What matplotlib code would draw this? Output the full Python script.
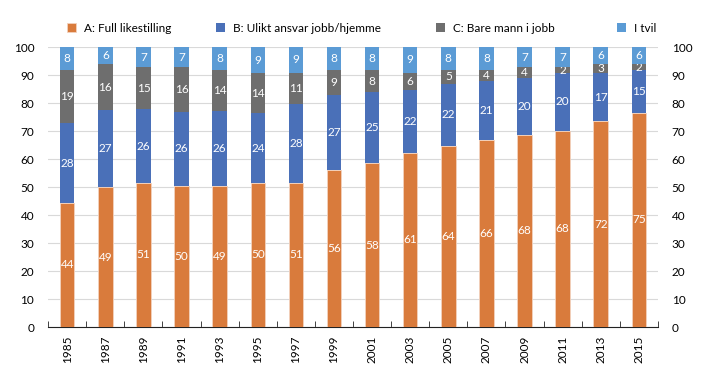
import matplotlib
matplotlib.use("Agg")
import matplotlib.pyplot as plt
import numpy as np

plt.rcParams['font.family'] = ['Lato', 'DejaVu Sans']

years = ['1985', '1987', '1989', '1991', '1993', '1995', '1997', '1999',
         '2001', '2003', '2005', '2007', '2009', '2011', '2013', '2015']
full = [44, 49, 51, 50, 49, 50, 51, 56, 58, 61, 64, 66, 68, 68, 72, 75]
ulikt = [28, 27, 26, 26, 26, 24, 28, 27, 25, 22, 22, 21, 20, 20, 17, 15]
bare_mann = [19, 16, 15, 16, 14, 14, 11, 9, 8, 6, 5, 4, 4, 2, 3, 2]
tvil = [8, 6, 7, 7, 8, 9, 9, 8, 8, 9, 8, 8, 7, 7, 6, 6]

names = ['A: Full likestilling', 'B: Ulikt ansvar jobb/hjemme',
         'C: Bare mann i jobb', 'I tvil']
colors = ['#D97B3C', '#4A70B8', '#6E6E6E', '#5B9BD5']
legend_x = [67, 216, 436, 617]  # pixel position of each legend square

series = np.array([full, ulikt, bare_mann, tvil], dtype=float)
# the printed numbers are rounded, bars are scaled so each year sums to 100
heights = series / series.sum(axis=0) * 100

fig = plt.figure(figsize=(7.19, 3.83), dpi=100)
ax = fig.add_axes([0.067, 0.146, 0.848, 0.731])

x = np.arange(len(years))
bottom = np.zeros(len(years))
handles = []
for i in range(4):
    bars = ax.bar(x, heights[i], 0.38, bottom=bottom, color=colors[i],
                  label=names[i], edgecolor='#F3D2BE' if i == 0 else 'none',
                  linewidth=0.6, zorder=3)
    ax.bar_label(bars, labels=[str(v) for v in series[i].astype(int)],
                 label_type='center', color='white', fontsize=8.5)
    bottom += heights[i]
    handles.append(bars)

ax.set_xlim(-0.5, len(years) - 0.5)
ax.set_ylim(0, 100)
ax.set_yticks(np.arange(0, 101, 10))
ax.yaxis.grid(True, color='#D9D9D9', linewidth=0.8, zorder=0)
ax.set_axisbelow(True)

ax.set_xticks(x)
ax.set_xticklabels(years, rotation=90, fontsize=8.5)
ax.set_xticks(np.arange(-0.5, len(years), 1), minor=True)
ax.tick_params(axis='x', which='major', length=0, pad=6)
ax.tick_params(axis='x', which='minor', direction='in', length=4, color='#222222')
ax.tick_params(axis='y', length=0, labelsize=8.5, labelright=True, pad=10)

for s in ['top', 'left', 'right']:
    ax.spines[s].set_visible(False)
ax.spines['bottom'].set_color('#222222')

# one legend per entry so each can sit where the original puts it
for h, name, px in zip(handles, names, legend_x):
    fig.legend([h], [name], loc='center left',
               bbox_to_anchor=(px / 719, 1 - 28 / 383),
               frameon=False, fontsize=8.5, handlelength=0.8,
               handleheight=0.8, handletextpad=0.6, borderpad=0,
               borderaxespad=0)

fig.savefig('out.png', dpi=100)
